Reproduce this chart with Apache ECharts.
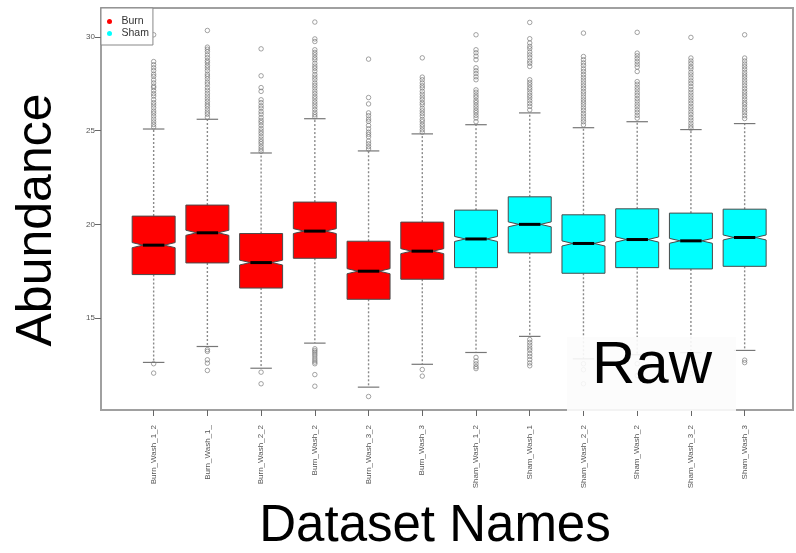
<!DOCTYPE html>
<html>
<head>
<meta charset="utf-8">
<script src="https://cdn.jsdelivr.net/npm/echarts@6/dist/echarts.min.js"></script>
<style>
html,body{margin:0;padding:0;background:#fff;}
#chart{width:796px;height:553px;}
</style>
</head>
<body>
<div id="chart"></div>
<script>
// ---------- data ----------
const categories = ['Burn_Wash_1_2','Burn_Wash_1_','Burn_Wash_2_2','Burn_Wash_2','Burn_Wash_3_2','Burn_Wash_3',
                    'Sham_Wash_1_2','Sham_Wash_1','Sham_Wash_2_2','Sham_Wash_2','Sham_Wash_3_2','Sham_Wash_3'];
const groups = ['Burn','Burn','Burn','Burn','Burn','Burn','Sham','Sham','Sham','Sham','Sham','Sham'];
const groupNames = ['Burn','Sham'];
const lowerWhisker = [12.63, 13.48, 12.32, 13.66, 11.31, 12.53, 13.16, 14.02, 12.82, 13.04, 13.15, 13.27];
const q1Values     = [17.32, 17.94, 16.60, 18.19, 16.00, 17.07, 17.69, 18.48, 17.39, 17.69, 17.62, 17.76];
const medianValues = [18.89, 19.55, 17.96, 19.64, 17.50, 18.57, 19.22, 20.00, 18.98, 19.19, 19.12, 19.30];
const q3Values     = [20.44, 21.03, 19.51, 21.19, 19.10, 20.12, 20.76, 21.47, 20.51, 20.83, 20.60, 20.81];
const upperWhisker = [25.09, 25.61, 23.81, 25.64, 23.92, 24.83, 25.32, 25.95, 25.16, 25.48, 25.06, 25.38];
const sampleSize = 1300;
const upperOutliers = [
  [30.12, 28.69, 28.52, 28.36, 28.21, 28.02, 27.9, 27.71, 27.55, 27.38, 27.3, 27.14, 26.98, 26.85, 26.66, 26.5, 26.37, 26.22, 26.05, 25.93, 25.78, 25.62, 25.47, 25.33, 25.2],
  [30.35, 29.46, 29.35, 29.22, 29.05, 28.9, 28.74, 28.63, 28.48, 28.35, 28.2, 28.02, 27.91, 27.77, 27.6, 27.48, 27.3, 27.16, 27.0, 26.85, 26.7, 26.56, 26.42, 26.3, 26.15, 26.0, 25.88, 25.72],
  [29.37, 27.93, 27.3, 27.1, 26.65, 26.5, 26.33, 26.2, 26.02, 25.88, 25.7, 25.55, 25.43, 25.28, 25.12, 24.98, 24.85, 24.7, 24.55, 24.42, 24.3, 24.15, 24.02, 23.9],
  [30.8, 29.9, 29.76, 29.32, 29.18, 29.05, 28.9, 28.78, 28.6, 28.45, 28.33, 28.18, 28.0, 27.86, 27.72, 27.55, 27.42, 27.28, 27.12, 26.98, 26.83, 26.7, 26.55, 26.42, 26.28, 26.13, 25.98, 25.85, 25.74],
  [28.82, 26.77, 26.43, 25.95, 25.8, 25.62, 25.5, 25.28, 25.1, 24.92, 24.8, 24.67, 24.45, 24.3, 24.15, 24.02],
  [28.89, 27.86, 27.72, 27.55, 27.4, 27.28, 27.1, 26.95, 26.8, 26.66, 26.5, 26.38, 26.2, 26.06, 25.92, 25.78, 25.6, 25.48, 25.33, 25.2, 25.05, 24.92],
  [30.12, 29.32, 29.16, 28.98, 28.79, 28.36, 28.2, 28.05, 27.88, 27.72, 27.18, 27.05, 26.9, 26.78, 26.62, 26.5, 26.36, 26.22, 26.08, 25.96, 25.82, 25.68, 25.48],
  [30.78, 29.91, 29.68, 29.5, 29.38, 29.2, 29.05, 28.9, 28.72, 28.6, 28.43, 27.72, 27.58, 27.45, 27.3, 27.18, 27.02, 26.88, 26.75, 26.6, 26.45, 26.3, 26.11],
  [30.21, 28.96, 28.79, 28.62, 28.48, 28.3, 28.16, 28.0, 27.85, 27.7, 27.55, 27.4, 27.26, 27.1, 26.96, 26.8, 26.65, 26.52, 26.38, 26.22, 26.08, 25.92, 25.78, 25.62, 25.48, 25.31],
  [30.25, 29.14, 29.0, 28.85, 28.7, 28.55, 28.4, 28.16, 27.62, 27.48, 27.32, 27.18, 27.02, 26.88, 26.72, 26.58, 26.42, 26.28, 26.12, 25.98, 25.82, 25.67],
  [29.98, 28.88, 28.72, 28.58, 28.42, 28.3, 28.12, 27.98, 27.82, 27.66, 27.52, 27.36, 27.2, 27.05, 26.9, 26.75, 26.6, 26.46, 26.3, 26.16, 26.0, 25.86, 25.7, 25.56, 25.4, 25.25, 25.13],
  [30.12, 28.88, 28.72, 28.56, 28.42, 28.28, 28.12, 27.98, 27.85, 27.7, 27.55, 27.4, 27.25, 27.1, 26.96, 26.82, 26.68, 26.52, 26.4, 26.25, 26.1, 25.96, 25.8, 25.65]
];
const lowerOutliers = [
  [12.56, 12.06],
  [13.31, 13.22, 12.77, 12.59, 12.2],
  [12.11, 11.49],
  [13.36, 13.27, 13.18, 13.08, 12.98, 12.86, 12.75, 12.65, 12.56, 11.98, 11.36],
  [10.81],
  [12.25, 11.9],
  [12.9, 12.7, 12.55, 12.4, 12.3],
  [13.85, 13.7, 13.55, 13.4, 13.28, 13.1, 12.95, 12.78, 12.6, 12.45],
  [12.56, 12.24, 11.49],
  [12.56, 11.93],
  [12.03],
  [12.75, 12.62]
];
const yTicks = [15, 20, 25, 30];
const groupColors = {Burn: '#ff0000', Sham: '#00ffff'};

// ---------- build ----------
const positions = categories.map((c, i) => i + 1);
function boxData(g) {
  const out = [];
  categories.forEach((c, i) => {
    if (groups[i] === g) out.push([positions[i], lowerWhisker[i], q1Values[i], medianValues[i], q3Values[i], upperWhisker[i]]);
  });
  return out;
}
const outlierData = [];
categories.forEach((c, i) => {
  upperOutliers[i].forEach(v => outlierData.push([positions[i], v]));
  lowerOutliers[i].forEach(v => outlierData.push([positions[i], v]));
});

const BOX_HALF = 0.4, NOTCH_IN = 0.2, CAP_HALF = 0.2;
function renderBox(params, api) {
  const x = api.value(0), lo = api.value(1), q1 = api.value(2), med = api.value(3), q3 = api.value(4), hi = api.value(5);
  const n = 1.58 * (q3 - q1) / Math.sqrt(sampleSize);
  const c = (a, b) => api.coord([a, b]);
  const fill = api.visual('color');
  const dash = {stroke: '#8a8a8a', lineWidth: 1.4, lineDash: [2, 2]};
  const solid = {stroke: '#777', lineWidth: 1.2};
  const pts = [
    c(x - BOX_HALF, q1), c(x - BOX_HALF, med - n), c(x - NOTCH_IN, med), c(x - BOX_HALF, med + n), c(x - BOX_HALF, q3),
    c(x + BOX_HALF, q3), c(x + BOX_HALF, med + n), c(x + NOTCH_IN, med), c(x + BOX_HALF, med - n), c(x + BOX_HALF, q1)
  ];
  const line = (p1, p2, style) => ({type: 'line', shape: {x1: p1[0], y1: p1[1], x2: p2[0], y2: p2[1]}, style: style});
  return {
    type: 'group',
    children: [
      line(c(x, q3), c(x, hi), dash),
      line(c(x, q1), c(x, lo), dash),
      line(c(x - CAP_HALF, hi), c(x + CAP_HALF, hi), solid),
      line(c(x - CAP_HALF, lo), c(x + CAP_HALF, lo), solid),
      {type: 'polygon', shape: {points: pts}, style: {fill: fill, stroke: '#4a4a4a', lineWidth: 1}},
      line(c(x - NOTCH_IN, med), c(x + NOTCH_IN, med), {stroke: '#000', lineWidth: 3})
    ]
  };
}

const FONT = '"Liberation Sans", Arial, sans-serif';
const chart = echarts.init(document.getElementById('chart'), null, {renderer: 'canvas'});
chart.setOption({
  animation: false,
  backgroundColor: '#fff',
  grid: {left: 101, right: 3, top: 8, bottom: 143, show: true, borderColor: '#a0a0a0', borderWidth: 2, backgroundColor: 'transparent', containLabel: false, outerBoundsMode: 'none'},
  xAxis: {
    type: 'value', min: 0.02, max: 12.9,
    axisLine: {show: false},
    splitLine: {show: false},
    axisTick: {show: true, customValues: positions, length: 6, lineStyle: {color: '#666', width: 1}},
    axisLabel: {show: true, customValues: positions, rotate: 90, margin: 15, fontSize: 8, color: '#555', fontFamily: FONT,
                formatter: v => categories[Math.round(v) - 1] || ''}
  },
  yAxis: {
    type: 'value', min: 10.09, max: 31.55,
    axisLine: {show: false},
    splitLine: {show: false},
    axisTick: {show: true, customValues: yTicks, length: 6, lineStyle: {color: '#666', width: 1}},
    axisLabel: {show: true, customValues: yTicks, margin: 6, fontSize: 8, color: '#555', fontFamily: FONT}
  },
  legend: {
    data: groupNames.map(g => ({name: g, icon: 'circle'})),
    selectedMode: false,
    orient: 'vertical',
    left: 101, top: 8,
    itemWidth: 14, itemHeight: 5, itemGap: 1,
    padding: [8, 4, 6, 6],
    backgroundColor: '#fff',
    borderColor: '#888', borderWidth: 1,
    textStyle: {fontSize: 10.5, color: '#333', fontFamily: FONT}
  },
  series: [
    {type: 'scatter', name: 'outliers', data: outlierData, symbol: 'circle', symbolSize: 4.5, z: 1,
     itemStyle: {color: 'rgba(255,255,255,0)', borderColor: '#707070', borderWidth: 0.8}, silent: true},
    {type: 'custom', name: groupNames[0], data: boxData(groupNames[0]), renderItem: renderBox, itemStyle: {color: groupColors.Burn}, z: 2},
    {type: 'custom', name: groupNames[1], data: boxData(groupNames[1]), renderItem: renderBox, itemStyle: {color: groupColors.Sham}, z: 2}
  ],
  graphic: [
    {type: 'text', x: 37, y: 220, rotation: Math.PI / 2, z: 100,
     style: {text: 'Abundance', fontSize: 50, fontFamily: FONT, fill: '#000', textAlign: 'center', textVerticalAlign: 'middle'}},
    {type: 'text', x: 435, y: 527, z: 100,
     style: {text: 'Dataset Names', fontSize: 51, fontFamily: FONT, fill: '#000', textAlign: 'center', textVerticalAlign: 'middle'}},
    {type: 'rect', shape: {x: 567, y: 337, width: 169, height: 74}, z: 100,
     style: {fill: 'rgba(252,252,252,0.9)'}},
    {type: 'text', x: 652, y: 366, z: 101,
     style: {text: 'Raw', fontSize: 60, fontFamily: FONT, fill: '#000', textAlign: 'center', textVerticalAlign: 'middle'}}
  ]
});
</script>
</body>
</html>
